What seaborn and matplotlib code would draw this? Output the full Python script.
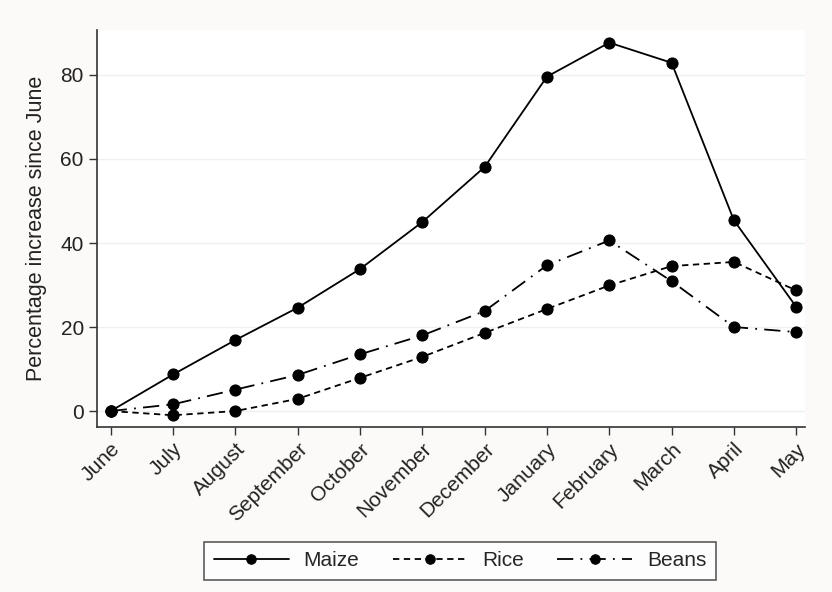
import numpy as np
import pandas as pd
import matplotlib
matplotlib.use("Agg")
import matplotlib.pyplot as plt
import seaborn as sns

months = ["June", "July", "August", "September", "October", "November",
          "December", "January", "February", "March", "April", "May"]
maize = [0, 8.7, 16.9, 24.6, 33.8, 45.0, 58.1, 79.6, 87.7, 82.9, 45.4, 24.8]
rice = [0, -1.0, 0.0, 2.9, 7.9, 12.9, 18.6, 24.3, 29.9, 34.5, 35.5, 28.7]
beans = [0, 1.6, 5.1, 8.6, 13.5, 18.0, 23.8, 34.7, 40.6, 30.9, 20.0, 18.8]
series_names = ["Maize", "Rice", "Beans"]
yticks = [0, 20, 40, 60, 80]

sns.set_theme(style="white")
plt.rcParams['font.family'] = ['Liberation Sans', 'DejaVu Sans']

df = pd.DataFrame({
    "idx": list(range(len(months))) * 3,
    "value": maize + rice + beans,
    "crop": sum([[n] * len(months) for n in series_names], []),
})

fig = plt.figure(figsize=(8.32, 5.92), dpi=100)
fig.patch.set_facecolor("#fbfaf8")
ax = fig.add_axes([0.1166, 0.2787, 0.8509, 0.6706])
ax.set_facecolor("white")

styles = {"Maize": "-", "Rice": (0, (3.5, 2.5)), "Beans": (0, (9, 4, 1, 4))}
for name in series_names:
    sub = df[df["crop"] == name]
    sns.lineplot(data=sub, x="idx", y="value", ax=ax, color="black",
                 linestyle=styles[name], linewidth=1.3, marker="o",
                 markersize=8, markeredgecolor="black", label=name,
                 legend=False)

ax.set_xlim(-0.22, 11.14)
ax.set_ylim(-3.8, 90.7)
ax.set_yticks(yticks)
ax.set_xticks(range(len(months)))
ax.set_xticklabels(months, rotation=45, ha="right", rotation_mode="anchor")
ax.tick_params(axis="both", bottom=True, left=True, direction="out", length=6,
               width=1, color="#333333", labelsize=15, labelcolor="#222222")
ax.tick_params(axis="x", pad=3)
for y in yticks:
    ax.axhline(y, color="#eef0f2", linewidth=1, zorder=0)
for s in ["top", "right"]:
    ax.spines[s].set_visible(False)
for s in ["left", "bottom"]:
    ax.spines[s].set_color("#333333")
    ax.spines[s].set_linewidth(1.2)
ax.set_xlabel("")
ax.set_ylabel("Percentage increase since June", fontsize=15.5, color="#222222",
              labelpad=10)

handles, labels = ax.get_legend_handles_labels()
leg = fig.legend(handles, labels, loc="center", ncol=3,
                 bbox_to_anchor=(460 / 832, 1 - 561 / 592), frameon=True,
                 fancybox=False, edgecolor="#333333", fontsize=15,
                 handlelength=3.6, handletextpad=0.7, columnspacing=1.6,
                 borderpad=0.45, markerscale=0.85)
leg.get_frame().set_linewidth(1.2)

fig.savefig("out.png", dpi=100, facecolor=fig.get_facecolor())
